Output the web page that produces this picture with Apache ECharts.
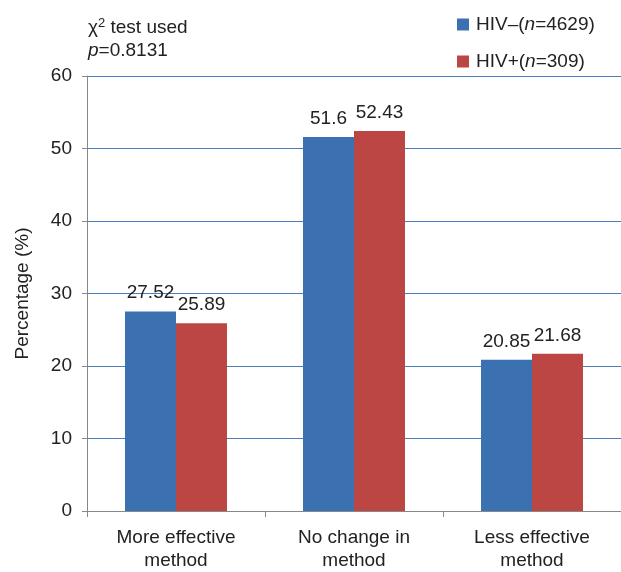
<!DOCTYPE html>
<html><head><meta charset="utf-8">
<script src="https://cdn.jsdelivr.net/npm/echarts@6/dist/echarts.min.js"></script>
<style>html,body{margin:0;padding:0;background:#fff}#c{width:621px;height:572px}</style>
</head><body><div id="c"></div>
<script>
var categories = ['More effective\nmethod', 'No change in\nmethod', 'Less effective\nmethod'];
var hivNeg = [27.52, 51.6, 20.85];
var hivPos = [25.89, 52.43, 21.68];
var seriesNames = ['HIV–(n=4629)', 'HIV+(n=309)'];
var yTicks = [0, 10, 20, 30, 40, 50, 60];

var font = 'Liberation Sans, Arial, sans-serif';
var fs = 19;
var chart = echarts.init(document.getElementById('c'));
function legendFmt(name) {
  var m = name.match(/^(.*\()n(=.*)$/);
  return m ? m[1] + '{i|n}' + m[2] : name;
}
chart.setOption({
  animation: false,
  grid: { left: 87, top: 76, width: 537, height: 438, containLabel: false },
  legend: {
    orient: 'vertical', left: 452, top: 10, itemGap: 18,
    itemWidth: 12, itemHeight: 12, icon: 'rect',
    formatter: legendFmt,
    textStyle: { fontFamily: font, fontSize: fs, color: '#222', padding: [0,0,0,2],
      rich: { i: { fontStyle: 'italic', fontFamily: font, fontSize: fs, color: '#222' } } },
    data: seriesNames
  },
  graphic: [
    { type: 'text', left: 88, top: 17, style: { text: '{g|χ}{s|2}{t| test used}', fontFamily: font,
      rich: { g: { fontSize: fs, fill: '#222', fontFamily: font }, s: { fontSize: 13, fill: '#222', verticalAlign: 'top', padding: [0,0,9,0], fontFamily: font }, t: { fontSize: fs, fill: '#222', fontFamily: font } } } },
    { type: 'text', left: 88, top: 41, style: { text: '{i|p}{t|=0.8131}', fontFamily: font,
      rich: { i: { fontSize: fs, fontStyle: 'italic', fill: '#222', fontFamily: font }, t: { fontSize: fs, fill: '#222', fontFamily: font } } } }
  ],
  xAxis: {
    type: 'category', data: categories,
    axisLine: { lineStyle: { color: '#888', width: 1 } },
    axisTick: { show: true, alignWithLabel: false, length: 6, lineStyle: { color: '#888' } },
    axisLabel: { fontFamily: font, fontSize: fs, color: '#222', margin: 15, lineHeight: 23 }
  },
  yAxis: {
    type: 'value', min: 0, max: 60, interval: 10,
    name: 'Percentage (%)', nameLocation: 'middle', nameGap: 55, nameRotate: 90,
    nameTextStyle: { fontFamily: font, fontSize: fs, color: '#222' },
    axisLine: { show: true, lineStyle: { color: '#888' } },
    axisTick: { show: true, length: 5, lineStyle: { color: '#888' } },
    axisLabel: { fontFamily: font, fontSize: fs, color: '#222', margin: 15,
      formatter: function (v) { return yTicks.indexOf(v) >= 0 ? String(v) : ''; } },
    splitLine: { lineStyle: { color: '#4A7EBB', width: 1 } }
  },
  series: [
    { name: seriesNames[0], type: 'bar', data: hivNeg, barWidth: 51, barGap: '0%',
      itemStyle: { color: '#3B71B1' },
      label: { show: true, position: 'top', distance: 9, fontFamily: font, fontSize: fs, color: '#222' } },
    { name: seriesNames[1], type: 'bar', data: hivPos, barWidth: 51, barGap: '0%',
      itemStyle: { color: '#BC4644' },
      label: { show: true, position: 'top', distance: 9, fontFamily: font, fontSize: fs, color: '#222' } }
  ]
});
</script></body></html>
